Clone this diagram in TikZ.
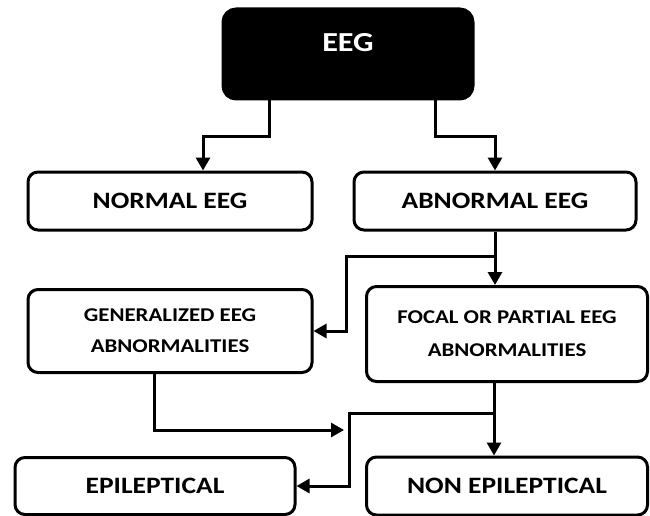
\documentclass[tikz,border=0pt]{standalone}
\usepackage{fontspec}
\setmainfont{Carlito}[FakeStretch=1.17]
\usetikzlibrary{arrows.meta}
\begin{document}
\begin{tikzpicture}[x=1pt, y=-1pt, >={Triangle[width=14pt,length=13pt]},
    box/.style={draw, line width=3pt, rounded corners=10pt, fill=white,
                inner sep=0pt, align=center, font=\bfseries\fontsize{23.5}{32}\selectfont},
    arr/.style={->, line width=3pt}]
    \useasboundingbox (0,0) rectangle (650,516);

    % Kopf
    \node[box, fill=black, text=white, rounded corners=13pt, minimum width=250pt,
          minimum height=90pt, font=\bfseries\fontsize{27.5}{30}\selectfont]
          (eeg) at (348,54) {\raisebox{2.5pt}[0pt][0pt]{EEG}};

    % Erste Ebene
    \node[box, minimum width=284pt, minimum height=58pt] (normal) at (170,201) {NORMAL EEG};
    \node[box, minimum width=282pt, minimum height=58pt] (abnormal) at (495,201) {ABNORMAL EEG};

    % Zweite Ebene
    \node[box, minimum width=284pt, minimum height=83pt, font=\bfseries\fontsize{19.5}{31}\selectfont]
          (general) at (170,331) {GENERALIZED EEG\\ABNORMALITIES};
    \node[box, minimum width=281pt, minimum height=95pt, font=\bfseries\fontsize{19.5}{33}\selectfont]
          (focal) at (507,334) {FOCAL OR PARTIAL EEG\\ABNORMALITIES};

    % Dritte Ebene
    \node[box, minimum width=280pt, minimum height=57pt] (epi) at (155,486) {EPILEPTICAL};
    \node[box, minimum width=281pt, minimum height=58pt] (nonepi) at (507,486) {NON EPILEPTICAL};

    % Hilfspunkte
    \coordinate (trunk) at (494,0);
    \coordinate (gentip) at (344,430);
    \path (abnormal.south) ++(0,25) coordinate (split1);
    \path (trunk |- focal.south) ++(0,30) coordinate (split2);

    % Pfeile
    \draw[arr] ([xshift=-79pt]eeg.south) -- ++(0,36) -| ([xshift=33pt]normal.north);
    \draw[arr] ([xshift=87pt]eeg.south) -- ++(0,36) -| (abnormal.north);
    \draw[arr] (abnormal.south) -- (abnormal.south |- focal.north);
    \draw[arr] (split1) -| ([xshift=33pt]general.east) -- (general.east);
    \draw[arr] ([xshift=-16pt]general.south) |- (gentip);
    \draw[arr] (trunk |- focal.south) -- (trunk |- nonepi.north);
    \draw[arr] (split2) -| ([xshift=53pt]epi.east) -- (epi.east);
\end{tikzpicture}
\end{document}
